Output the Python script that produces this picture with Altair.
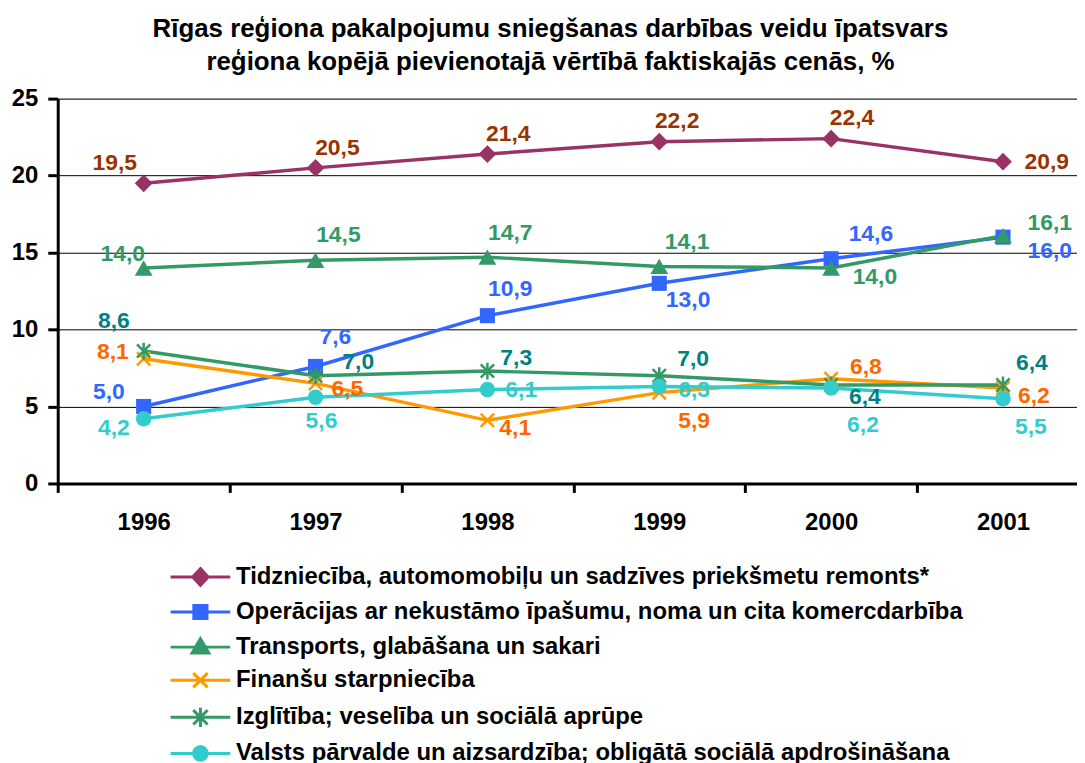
import altair as alt
import pandas as pd
import math

# ---------------- data ----------------
years = ["1996", "1997", "1998", "1999", "2000", "2001"]
series = [
    "Tidzniecība, automomobiļu un sadzīves priekšmetu remonts*",
    "Operācijas ar nekustāmo īpašumu, noma un cita komercdarbība",
    "Transports, glabāšana un sakari",
    "Finanšu starpniecība",
    "Izglītība; veselība un sociālā aprūpe",
    "Valsts pārvalde un aizsardzība; obligātā sociālā apdrošināšana",
]
trade = [19.5, 20.5, 21.4, 22.2, 22.4, 20.9]
real_estate = [5.0, 7.6, 10.9, 13.0, 14.6, 16.0]
transport = [14.0, 14.5, 14.7, 14.1, 14.0, 16.1]
finance = [8.1, 6.5, 4.1, 5.9, 6.8, 6.2]
education = [8.6, 7.0, 7.3, 7.0, 6.4, 6.4]
public_admin = [4.2, 5.6, 6.1, 6.3, 6.2, 5.5]
values = [trade, real_estate, transport, finance, education, public_admin]

# ---------------- styling (kept apart from the data) ----------------
line_colors = ["#993366", "#3366FF", "#339966", "#FF9900", "#339966", "#33CCCC"]
label_colors = ["#993300", "#3366FF", "#339966", "#FF6600", "#008080", "#33CCCC"]
# label offsets in pixels relative to each point (dx, dy)
label_dx = [
    [-29, 22, 21, 18, 21, 44],
    [-35, 20, 23, 29, 40, 47],
    [-21, 23, 23, 28, 44, 47],
    [-31, 32, 28, 35, 35, 31],
    [-30, 43, 29, 34, 34, 29],
    [-30, 6, 34, 35, 32, 28],
]
label_dy = [
    [-20, -20, -20, -21, -21, 0],
    [-15, -30, -27, 17, -25, 14],
    [-14, -25, -24, -24, 9, -13],
    [-7, 6, 8, 29, -12, 8],
    [-30, -14, -13, -17, 12, -22],
    [9, 24, 0, 4, 37, 28],
]

X_PATH = "M-0.8,-0.8L0.8,0.8M-0.8,0.8L0.8,-0.8"
AST_PATH = "M-0.8,-0.8L0.8,0.8M-0.8,0.8L0.8,-0.8M0,-1V1"
point_shapes = ["diamond", "square", "triangle-up", X_PATH, AST_PATH, "circle"]
point_filled = [True, True, True, False, False, True]
point_sizes = [320, 230, 320, 280, 280, 240]


def poly(r, n=16):
    pts = [(r * math.cos(2 * math.pi * k / n), r * math.sin(2 * math.pi * k / n)) for k in range(n)]
    return "M" + "L".join(f"{x:.3f},{y:.3f}" for x, y in pts) + "Z"


# legend glyphs: a line segment with the series marker (unit = 10 px)
legend_paths = [
    "M-3,0H3M0,-0.84L0.78,0L0,0.84L-0.78,0Z",
    "M-3,0H3M-0.66,-0.66H0.66V0.66H-0.66Z",
    "M-3,0H3M0,-0.84L0.84,0.6L-0.84,0.6Z",
    "M-3,0H3M-0.72,-0.72L0.72,0.72M-0.72,0.72L0.72,-0.72",
    "M-3,0H3M-0.72,-0.72L0.72,0.72M-0.72,0.72L0.72,-0.72M0,-0.96V0.96",
    "M-3,0H3" + poly(0.69),
]
legend_shape_expr = "[" + ",".join(f"'{p}'" for p in legend_paths) + "][datum.index]"

rows = []
for si, name in enumerate(series):
    for yi, yr in enumerate(years):
        v = values[si][yi]
        rows.append({
            "year": yr,
            "series": name,
            "value": v,
            "label": f"{v:.1f}".replace(".", ","),
            "dx": label_dx[si][yi],
            "dy": label_dy[si][yi],
            "lc": label_colors[si],
        })
df = pd.DataFrame(rows)

FONT = "Liberation Sans"

x_enc = alt.X(
    "year:O",
    sort=years,
    scale=alt.Scale(type="band", domain=years, range=[0, 1037], paddingInner=0, paddingOuter=0),
    axis=alt.Axis(
        title=None, labelAngle=0, tickBand="extent", grid=False,
        domainColor="black", domainWidth=3, tickColor="black", tickWidth=3, tickSize=9,
        labelFont=FONT, labelFontSize=24, labelFontWeight="bold", labelColor="black",
        labelPadding=18,
    ),
)
y_enc = alt.Y(
    "value:Q",
    scale=alt.Scale(domain=[0, 25], nice=False, zero=True),
    axis=alt.Axis(
        title=None, values=[0, 5, 10, 15, 20, 25], grid=True, gridColor="black",
        gridWidth=1, gridOpacity=1, domainColor="black", domainWidth=3,
        tickColor="black", tickWidth=3, tickSize=10,
        labelFont=FONT, labelFontSize=24, labelFontWeight="bold", labelColor="black",
        labelPadding=10,
    ),
)
color_scale = alt.Scale(domain=series, range=line_colors)

legend = alt.Legend(
    title=None, orient="none", legendX=112, legendY=469, padding=0,
    symbolType=alt.ExprRef(expr=legend_shape_expr),
    symbolFillColor=alt.ExprRef(expr="scale('color', datum.value)"),
    symbolSize=400, symbolStrokeWidth=3, symbolOpacity=1, symbolOffset=19.5,
    labelFont=FONT, labelFontSize=24, labelFontWeight="bold", labelColor="black",
    labelLimit=0, labelOffset=23.8, rowPadding=7.3,
)

base = alt.Chart(df)

lines = base.mark_line(strokeWidth=3.5).encode(
    x=x_enc, y=y_enc,
    color=alt.Color("series:N", scale=color_scale, legend=legend),
)

point_layers = []
for i, name in enumerate(series):
    if point_filled[i]:
        mk = base.mark_point(shape=point_shapes[i], filled=True, size=point_sizes[i],
                             opacity=1, color=line_colors[i], strokeWidth=0)
    else:
        mk = base.mark_point(shape=point_shapes[i], filled=False, size=point_sizes[i],
                             opacity=1, color=line_colors[i], strokeWidth=2.5)
    point_layers.append(
        mk.transform_filter(alt.FieldEqualPredicate(field="series", equal=name)).encode(x=x_enc, y=y_enc)
    )

labels = base.mark_text(
    font=FONT, fontSize=23, fontWeight="bold", align="center", baseline="middle",
    dx=alt.ExprRef(expr="datum.dx"), dy=alt.ExprRef(expr="datum.dy"),
).encode(
    x=x_enc, y=y_enc, text="label:N",
    fill=alt.Fill("lc:N", scale=None),
)

chart = alt.layer(lines, *point_layers, labels).properties(
    width=1025,
    height=387,
    autosize=alt.AutoSizeParams(type="none"),
    padding={"left": 50, "top": 89, "right": 0, "bottom": 279},
    title=alt.TitleParams(
        text=[
            "Rīgas reģiona pakalpojumu sniegšanas darbības veidu īpatsvars",
            "reģiona kopējā pievienotajā vērtībā faktiskajās cenās, %",
        ],
        font=FONT, fontSize=26, fontWeight="bold", color="black",
        anchor="middle", frame="group", dx=-17, offset=12, lineHeight=33,
    ),
).configure_view(stroke=None).configure(background="white")

chart.save("out.html", embed_options={"renderer": "svg", "actions": False})
